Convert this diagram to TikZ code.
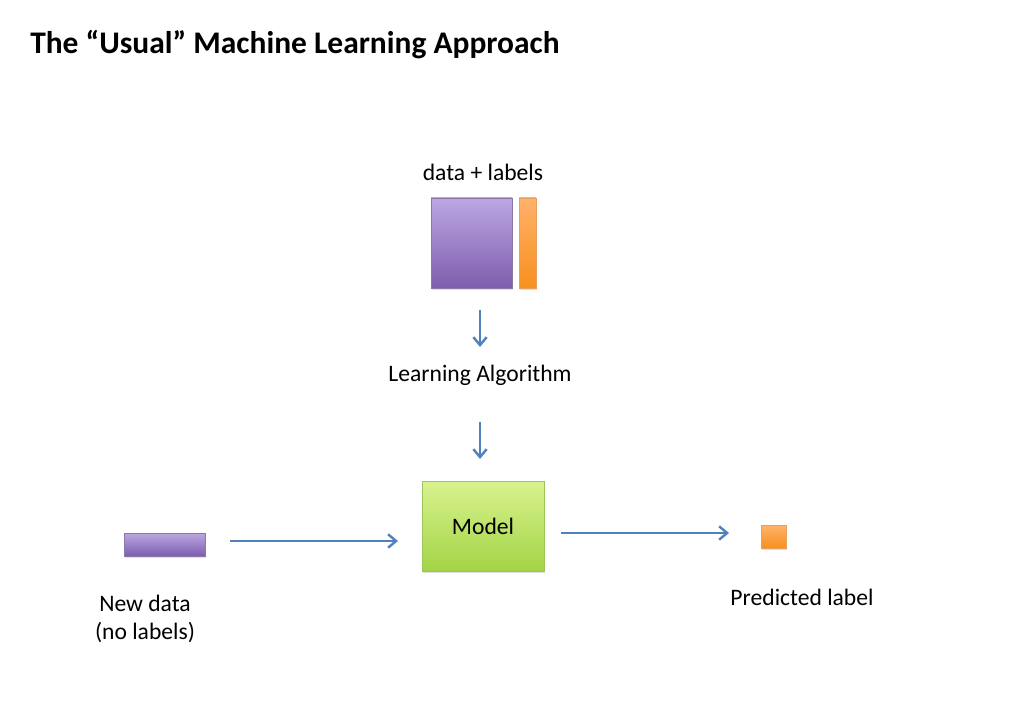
\documentclass[tikz,border=0pt]{standalone}
\usepackage{fontspec}
\setmainfont{Carlito}
\usetikzlibrary{arrows.meta,shadows}
\definecolor{arrowblue}{HTML}{4F81BD}
\definecolor{purpTop}{HTML}{BCA7E2}
\definecolor{purpBot}{HTML}{7D5DAE}
\definecolor{purpEdge}{HTML}{8A78A8}
\definecolor{orTop}{HTML}{FFB26A}
\definecolor{orBot}{HTML}{F7901E}
\definecolor{orEdge}{HTML}{E8A060}
\definecolor{grTop}{HTML}{D9F28F}
\definecolor{grBot}{HTML}{A3D445}
\definecolor{grEdge}{HTML}{9CC65A}
\tikzset{
  flow/.style={draw=arrowblue, line width=1.8pt, -{Straight Barb[length=6pt,width=10pt,line width=1.8pt]}},
  purpbox/.style={draw=purpEdge, line width=0.6pt, top color=purpTop, bottom color=purpBot, inner sep=0pt,
    drop shadow={shadow xshift=0.6pt, shadow yshift=-1.2pt, opacity=0.25}},
  orbox/.style={draw=orEdge, line width=0.6pt, top color=orTop, bottom color=orBot, inner sep=0pt,
    drop shadow={shadow xshift=0.6pt, shadow yshift=-1.2pt, opacity=0.25}},
  grbox/.style={draw=grEdge, line width=0.6pt, top color=grTop, bottom color=grBot, inner sep=0pt,
    drop shadow={shadow xshift=0.6pt, shadow yshift=-1.2pt, opacity=0.25}},
  lbl/.style={font=\fontsize{17.7}{21}\selectfont, inner sep=0pt, align=center},
}
\begin{document}
\begin{tikzpicture}[x=0.75pt, y=-0.75pt]
\useasboundingbox (0,0) rectangle (1024,709);
\node[anchor=base west, inner sep=0pt, font=\fontsize{23.6}{28}\selectfont\bfseries] (title) at (30,54) {The “Usual” Machine Learning Approach};
\node[lbl] (dl) at (483,172) {data + labels};
\node[purpbox, minimum width=60.75pt, minimum height=67.5pt] (data) at (471.5,243) {};
\node[orbox, minimum width=12.75pt, minimum height=67.5pt] (lab) at (527.5,243) {};
\node[lbl] (alg) at (480,375) {Learning Algorithm};
\node[grbox, minimum width=91.5pt, minimum height=67.5pt, font=\fontsize{17.7}{21}\selectfont] (model) at (483,526) {Model};
\node[purpbox, minimum width=60.75pt, minimum height=17.25pt] (new) at (164.5,544.5) {};
\node[orbox, minimum width=18.75pt, minimum height=17.25pt] (pred) at (773.5,536.5) {};
\node[lbl] (newl) at (145,619) {New data\\(no labels)};
\node[lbl] (predl) at (802,597) {Predicted label};
\coordinate (a1s) at (480,310); \coordinate (a1e) at (480,347);
\coordinate (a2s) at (480,422); \coordinate (a2e) at (480,459);
\coordinate (a3s) at (230,541); \coordinate (a3e) at (398,541);
\coordinate (a4s) at (561,533); \coordinate (a4e) at (729,533);
\draw[flow] (a1s) -- (a1e);
\draw[flow] (a2s) -- (a2e);
\draw[flow] (a3s) -- (a3e);
\draw[flow] (a4s) -- (a4e);
\end{tikzpicture}
\end{document}
